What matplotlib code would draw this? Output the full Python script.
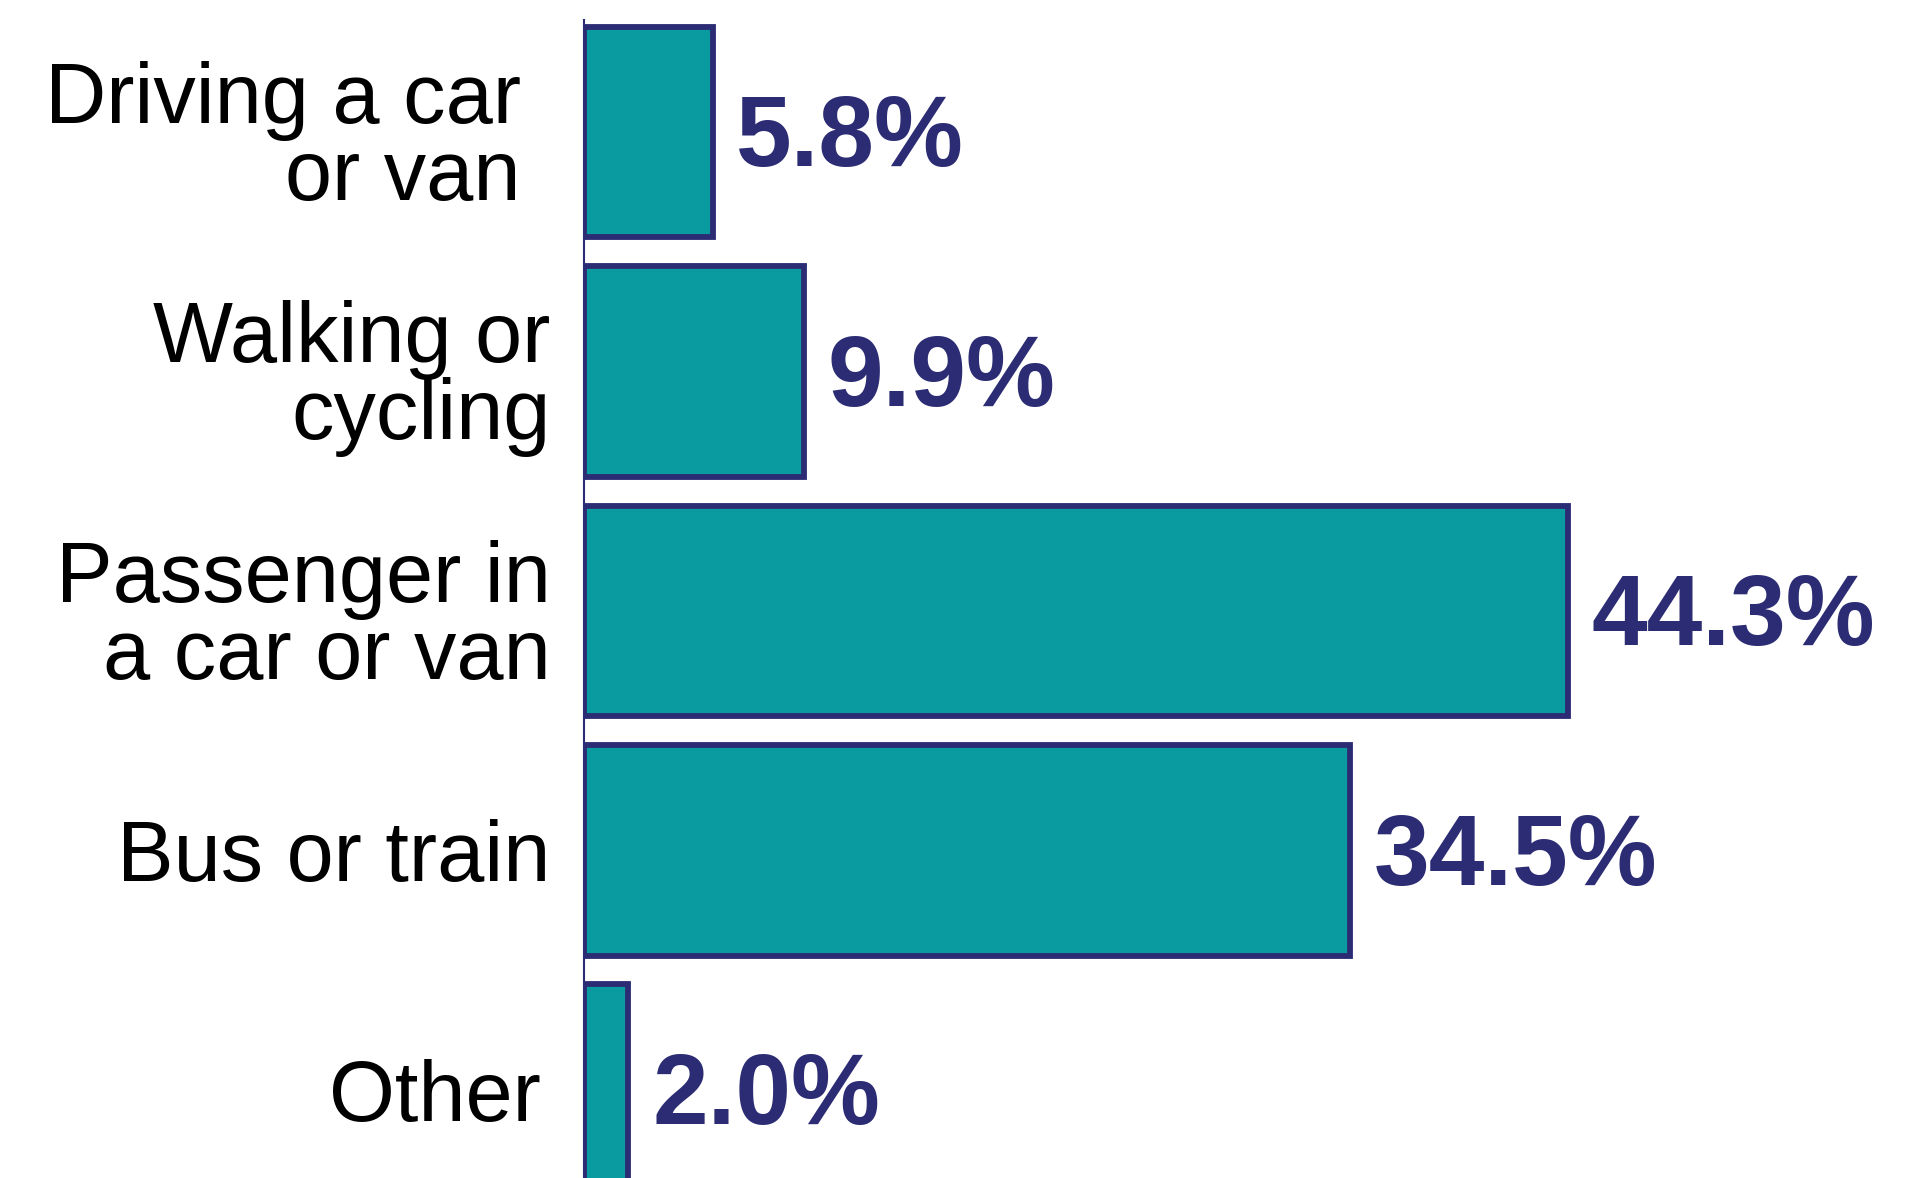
import numpy as np
import matplotlib.pyplot as plt
from matplotlib.transforms import ScaledTranslation

categories = ["Driving a car\nor van", "Walking or\ncycling", "Passenger in\na car or van",
              "Bus or train", "Other"]
shares = [5.8, 9.9, 44.3, 34.5, 2.0]

fill = "#0A9BA1"
navy = "#2C2C74"

plt.rcParams['font.family'] = ['Liberation Sans', 'DejaVu Sans']

fig = plt.figure(figsize=(19.25, 11.78), dpi=100)
ax = fig.add_axes([584 / 1925, 0.0, 1 - 584 / 1925, 1 - 20 / 1178])

pos = np.arange(len(categories))
ax.barh(pos, shares, height=0.88, color=fill, edgecolor=navy, linewidth=4.2)

for p, v in zip(pos, shares):
    ax.annotate(f"{v:.1f}%", xy=(v, p), xytext=(17, -6), textcoords="offset points",
                color=navy, fontsize=72, fontweight="bold", va="center", ha="left")

ax.set_yticks(pos)
ax.set_yticklabels(categories, fontsize=61, linespacing=0.95)
ax.tick_params(axis="y", length=0, pad=24)
ax.set_xticks([])
ax.set_xlim(0, 60.4)
ax.set_ylim(4.369, -0.468)

# first and last labels sit a little further left in the original
labels = ax.get_yticklabels()
labels[0].set_transform(labels[0].get_transform() + ScaledTranslation(-0.3, 0, fig.dpi_scale_trans))
labels[-1].set_transform(labels[-1].get_transform() + ScaledTranslation(-0.1, 0, fig.dpi_scale_trans))

for s in ["top", "right", "bottom"]:
    ax.spines[s].set_visible(False)
ax.spines["left"].set_color(navy)
ax.spines["left"].set_linewidth(1.5)

fig.savefig("out.png", dpi=100)
